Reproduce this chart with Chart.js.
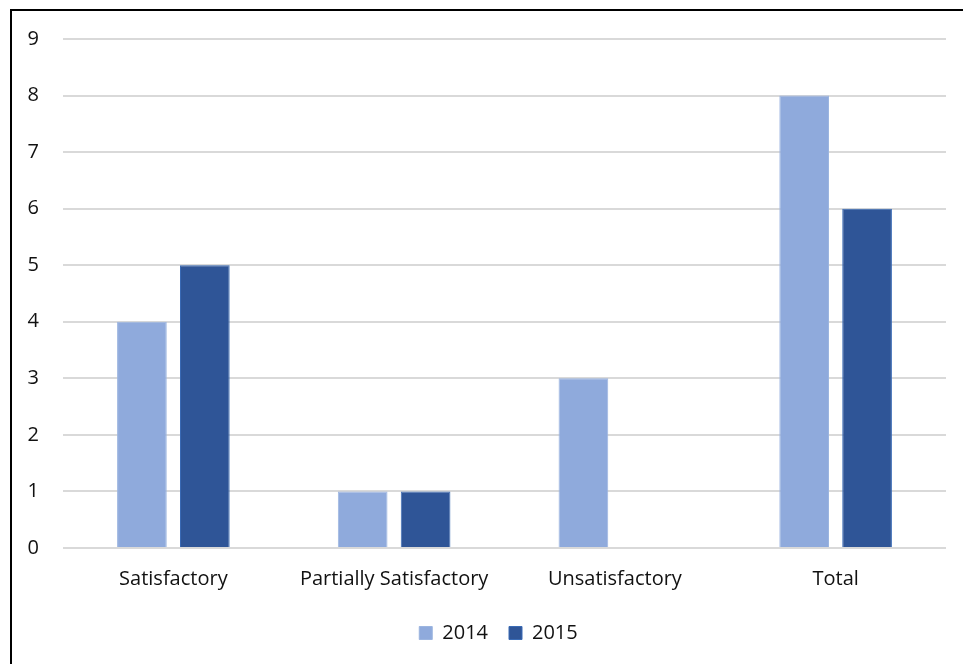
<!DOCTYPE html>
<html><head><meta charset="utf-8">
<script src="https://cdn.jsdelivr.net/npm/chart.js@4"></script>
<style>
html,body{margin:0;padding:0;background:#fff;overflow:hidden}
#wrap{position:absolute;left:0;top:0;width:963px;height:664px}
#frame{position:absolute;left:10px;top:9px;width:1100px;height:800px;border:2px solid #000;box-sizing:border-box;pointer-events:none}
canvas{position:absolute;left:0;top:0}
</style></head>
<body>
<div id="wrap"><div id="frame"></div><canvas id="c" width="963" height="664"></canvas></div>
<script>
const categories = ["Satisfactory", "Partially Satisfactory", "Unsatisfactory", "Total"];
const seriesNames = ["2014", "2015"];
const values2014 = [4, 1, 3, 8];
const values2015 = [5, 1, 0, 6];
const yTicks = [0, 1, 2, 3, 4, 5, 6, 7, 8, 9];

const FONT = "'Open Sans', 'Noto Sans', sans-serif";
Chart.defaults.font.family = FONT;
Chart.defaults.color = '#111';

// centre the legend under the plot area rather than the whole canvas
const legendShift = {
  id: 'legendShift',
  afterLayout(chart) {
    const lg = chart.legend;
    if (!lg) return;
    const w = lg.right - lg.left;
    const c = (chart.chartArea.left + chart.chartArea.right) / 2 - 6;
    lg.left = c - w / 2;
    lg.right = c + w / 2;
  }
};

new Chart(document.getElementById('c'), {
  type: 'bar',
  data: {
    labels: categories,
    datasets: [
      {label: seriesNames[0], data: values2014, backgroundColor: '#8FAADC', borderColor: '#9CB5E0', borderWidth: 1, categoryPercentage: 0.57, barPercentage: 0.79},
      {label: seriesNames[1], data: values2015, backgroundColor: '#2F5597', borderColor: '#3A6BB5', borderWidth: 1, categoryPercentage: 0.57, barPercentage: 0.79}
    ]
  },
  plugins: [legendShift],
  options: {
    responsive: false,
    animation: false,
    layout: {padding: {left: 0, right: 17, top: 39, bottom: 11}},
    plugins: {
      legend: {
        position: 'bottom',
        labels: {boxWidth: 13, boxHeight: 13, padding: 21, font: {size: 20}, color: '#111'}
      },
      tooltip: {enabled: false}
    },
    scales: {
      x: {
        grid: {display: false},
        border: {display: false},
        ticks: {font: {size: 20}, padding: 11, color: '#111'}
      },
      y: {
        min: 0, max: 9,
        afterBuildTicks: s => { s.ticks = yTicks.map(v => ({value: v})); },
        afterFit: s => { s.width = 63; },
        grid: {color: '#d9d9d9', lineWidth: 2, drawTicks: false},
        border: {display: false},
        ticks: {font: {size: 20}, padding: 24, color: '#111'}
      }
    }
  }
});
</script>
</body></html>
